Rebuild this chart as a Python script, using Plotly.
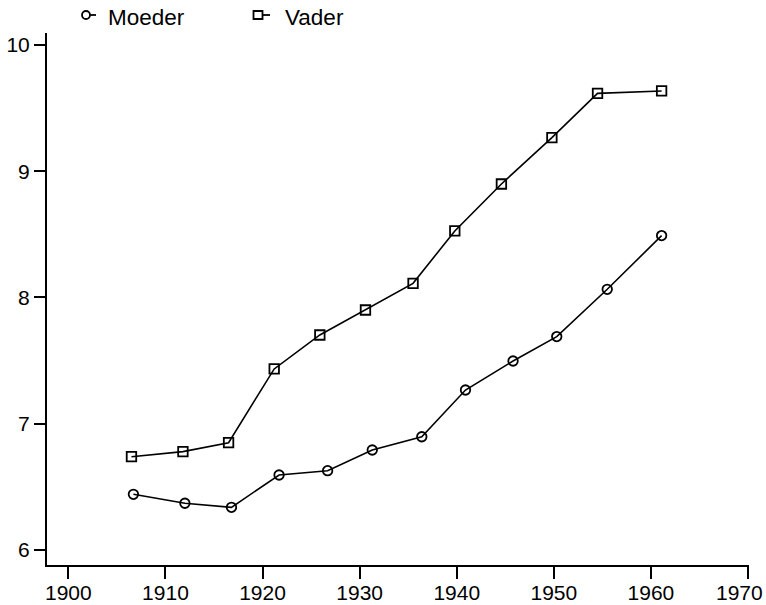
import plotly.graph_objects as go

# Data
moeder_years = [1906.7, 1912.0, 1916.8, 1921.7, 1926.7, 1931.3, 1936.4, 1940.9, 1945.8, 1950.3, 1955.5, 1961.1]
moeder_values = [6.441, 6.370, 6.338, 6.594, 6.628, 6.792, 6.897, 7.267, 7.497, 7.690, 8.065, 8.490]

vader_years = [1906.5, 1911.8, 1916.5, 1921.2, 1925.9, 1930.6, 1935.5, 1939.8, 1944.6, 1949.8, 1954.5, 1961.1]
vader_values = [6.739, 6.779, 6.850, 7.434, 7.703, 7.901, 8.112, 8.527, 8.899, 9.266, 9.617, 9.636]

series_names = ["Moeder", "Vader"]
x_ticks = [1900, 1910, 1920, 1930, 1940, 1950, 1960, 1970]
# last label is drawn as an annotation so it stays inside the page edge
x_labels = ["1900", "1910", "1920", "1930", "1940", "1950", "1960", ""]
last_x_label = "1970"
y_ticks = [6, 7, 8, 9, 10]

FONT = "Liberation Sans, Arial, Helvetica, sans-serif"

W, H = 766, 605
# plot area in page pixels
PL, PR, PT, PB = 47, 749, 33, 565
ML, MR, MT, MB = PL, W - PR, PT, H - PB
PW, PH = PR - PL, PB - PT


def px_x(px):
    return (px - PL) / PW


def px_y(py):
    return (PB - py) / PH


fig = go.Figure()
fig.add_trace(go.Scatter(
    x=moeder_years, y=moeder_values, name=series_names[0], mode="lines+markers",
    line=dict(color="black", width=1.6),
    marker=dict(symbol="circle-open", size=9.5, color="black", line=dict(width=1.8)),
    showlegend=False,
))
fig.add_trace(go.Scatter(
    x=vader_years, y=vader_values, name=series_names[1], mode="lines+markers",
    line=dict(color="black", width=1.6),
    marker=dict(symbol="square-open", size=9.5, color="black", line=dict(width=1.8)),
    showlegend=False,
))

# Custom legend: marker followed by a short line, then the label
ly = px_y(15)
shapes = [
    dict(type="circle", xref="paper", yref="paper", xsizemode="pixel", ysizemode="pixel",
         xanchor=px_x(86), yanchor=ly, x0=-4, x1=4, y0=-4, y1=4,
         line=dict(color="black", width=1.8)),
    dict(type="line", xref="paper", yref="paper", xsizemode="pixel", ysizemode="pixel",
         xanchor=px_x(86), yanchor=ly, x0=4, x1=10, y0=0, y1=0,
         line=dict(color="black", width=1.8)),
    dict(type="rect", xref="paper", yref="paper", xsizemode="pixel", ysizemode="pixel",
         xanchor=px_x(258), yanchor=ly, x0=-4.5, x1=4.5, y0=-4, y1=4,
         line=dict(color="black", width=1.8)),
    dict(type="line", xref="paper", yref="paper", xsizemode="pixel", ysizemode="pixel",
         xanchor=px_x(258), yanchor=ly, x0=4.5, x1=12, y0=0, y1=0,
         line=dict(color="black", width=1.8)),
]
annotations = [
    dict(text=series_names[0], xref="paper", yref="paper", x=px_x(106), y=px_y(17),
         xanchor="left", yanchor="middle", showarrow=False,
         font=dict(family=FONT, size=22.5, color="black")),
    dict(text=series_names[1], xref="paper", yref="paper", x=px_x(283), y=px_y(17),
         xanchor="left", yanchor="middle", showarrow=False,
         font=dict(family=FONT, size=22.5, color="black")),
    dict(text=last_x_label, xref="paper", yref="paper", x=px_x(765), y=px_y(592),
         xanchor="right", yanchor="middle", showarrow=False,
         font=dict(family=FONT, size=21, color="black")),
]

fig.update_layout(
    width=W, height=H,
    margin=dict(l=ML, r=MR, t=MT, b=MB, autoexpand=False),
    paper_bgcolor="white", plot_bgcolor="white",
    font=dict(family=FONT, size=21, color="black"),
    showlegend=False,
    shapes=shapes,
    annotations=annotations,
    xaxis=dict(
        range=[1897.8, 1970.1], tickvals=x_ticks, ticktext=x_labels,
        showgrid=False, zeroline=False, showline=True, linecolor="black", linewidth=2,
        ticks="outside", ticklen=12, tickwidth=1.5, tickcolor="black",
        tickfont=dict(family=FONT, size=21, color="black"),
        ticklabelstandoff=-4,
        automargin=False, ticklabeloverflow="allow",
    ),
    yaxis=dict(
        range=[5.881, 10.095], tickvals=y_ticks, ticktext=[str(v) for v in y_ticks],
        showgrid=False, zeroline=False, showline=True, linecolor="black", linewidth=2,
        ticks="outside", ticklen=11, tickwidth=1.5, tickcolor="black",
        tickfont=dict(family=FONT, size=21, color="black"),
        automargin=False, ticklabeloverflow="allow",
    ),
)

fig.write_html(
    "out.html",
    config={"displayModeBar": False},
    post_script="document.body.style.margin='0';document.body.style.overflow='hidden';",
)
